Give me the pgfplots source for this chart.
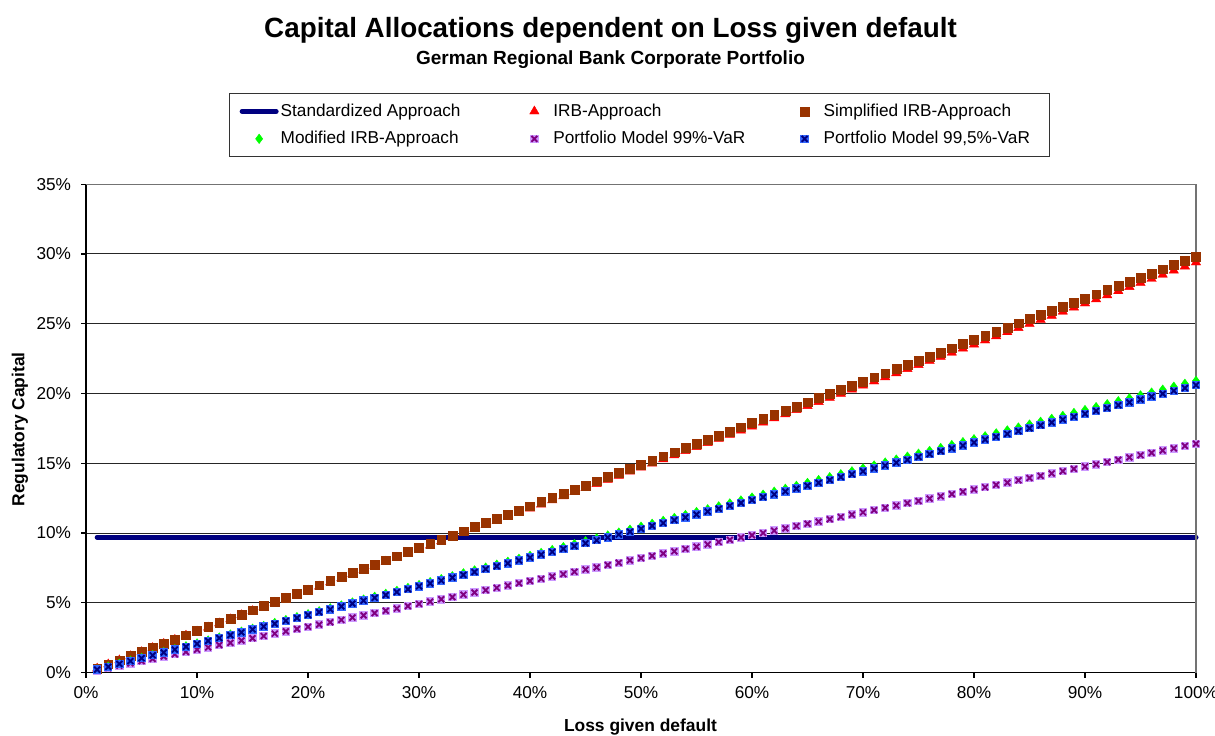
\documentclass[border=0pt]{standalone}
\usepackage{fontspec}
\setmainfont{Liberation Sans}
\usepackage{pgfplots}
\usepackage{pgfplotstable}
\pgfplotsset{compat=1.18}

\definecolor{stdnavy}{HTML}{000080}
\definecolor{irbred}{HTML}{FF0000}
\definecolor{simpbrown}{HTML}{993300}
\definecolor{modgreen}{HTML}{00FF00}
\definecolor{pmpurple}{HTML}{800080}
\definecolor{pmlilac}{HTML}{CC99FF}
\definecolor{pmblue}{HTML}{3366FF}
\definecolor{pmnavy}{HTML}{000080}

% filled square with an x on top (Excel style "x" marker)
\pgfdeclareplotmark{sqx}{%
  \pgfpathrectangle{\pgfqpoint{-\pgfplotmarksize}{-\pgfplotmarksize}}{\pgfqpoint{2\pgfplotmarksize}{2\pgfplotmarksize}}%
  \pgfusepathqfill
  \pgfpathmoveto{\pgfqpoint{-0.7\pgfplotmarksize}{-0.7\pgfplotmarksize}}%
  \pgfpathlineto{\pgfqpoint{0.7\pgfplotmarksize}{0.7\pgfplotmarksize}}%
  \pgfpathmoveto{\pgfqpoint{-0.7\pgfplotmarksize}{0.7\pgfplotmarksize}}%
  \pgfpathlineto{\pgfqpoint{0.7\pgfplotmarksize}{-0.7\pgfplotmarksize}}%
  \pgfusepathqstroke
}

% LGD in %, capital in %
\pgfplotstableread{
x irb simp mod p99 p995
1 0.29 0.30 0.21 0.16 0.21
2 0.59 0.60 0.42 0.33 0.41
3 0.88 0.89 0.63 0.49 0.62
4 1.18 1.19 0.84 0.66 0.82
5 1.47 1.49 1.05 0.82 1.03
6 1.76 1.79 1.25 0.98 1.24
7 2.06 2.09 1.46 1.15 1.44
8 2.35 2.38 1.67 1.31 1.65
9 2.65 2.68 1.88 1.48 1.85
10 2.94 2.98 2.09 1.64 2.06
11 3.23 3.28 2.30 1.80 2.27
12 3.53 3.58 2.51 1.97 2.47
13 3.82 3.87 2.72 2.13 2.68
14 4.12 4.17 2.93 2.30 2.88
15 4.41 4.47 3.14 2.46 3.09
16 4.70 4.77 3.34 2.62 3.30
17 5.00 5.07 3.55 2.79 3.50
18 5.29 5.36 3.76 2.95 3.71
19 5.59 5.66 3.97 3.12 3.91
20 5.88 5.96 4.18 3.28 4.12
21 6.17 6.26 4.39 3.44 4.33
22 6.47 6.56 4.60 3.61 4.53
23 6.76 6.85 4.81 3.77 4.74
24 7.06 7.15 5.02 3.94 4.94
25 7.35 7.45 5.23 4.10 5.15
26 7.64 7.75 5.43 4.26 5.36
27 7.94 8.05 5.64 4.43 5.56
28 8.23 8.34 5.85 4.59 5.77
29 8.53 8.64 6.06 4.76 5.97
30 8.82 8.94 6.27 4.92 6.18
31 9.11 9.24 6.48 5.08 6.39
32 9.41 9.54 6.69 5.25 6.59
33 9.70 9.83 6.90 5.41 6.80
34 10.00 10.13 7.11 5.58 7.00
35 10.29 10.43 7.32 5.74 7.21
36 10.58 10.73 7.52 5.90 7.42
37 10.88 11.03 7.73 6.07 7.62
38 11.17 11.32 7.94 6.23 7.83
39 11.47 11.62 8.15 6.40 8.03
40 11.76 11.92 8.36 6.56 8.24
41 12.05 12.22 8.57 6.72 8.45
42 12.35 12.52 8.78 6.89 8.65
43 12.64 12.81 8.99 7.05 8.86
44 12.94 13.11 9.20 7.22 9.06
45 13.23 13.41 9.41 7.38 9.27
46 13.52 13.71 9.61 7.54 9.48
47 13.82 14.01 9.82 7.71 9.68
48 14.11 14.30 10.03 7.87 9.89
49 14.41 14.60 10.24 8.04 10.09
50 14.70 14.90 10.45 8.20 10.30
51 14.99 15.20 10.66 8.36 10.51
52 15.29 15.50 10.87 8.53 10.71
53 15.58 15.79 11.08 8.69 10.92
54 15.88 16.09 11.29 8.86 11.12
55 16.17 16.39 11.50 9.02 11.33
56 16.46 16.69 11.70 9.18 11.54
57 16.76 16.99 11.91 9.35 11.74
58 17.05 17.28 12.12 9.51 11.95
59 17.35 17.58 12.33 9.68 12.15
60 17.64 17.88 12.54 9.84 12.36
61 17.93 18.18 12.75 10.00 12.57
62 18.23 18.48 12.96 10.17 12.77
63 18.52 18.77 13.17 10.33 12.98
64 18.82 19.07 13.38 10.50 13.18
65 19.11 19.37 13.59 10.66 13.39
66 19.40 19.67 13.79 10.82 13.60
67 19.70 19.97 14.00 10.99 13.80
68 19.99 20.26 14.21 11.15 14.01
69 20.29 20.56 14.42 11.32 14.21
70 20.58 20.86 14.63 11.48 14.42
71 20.87 21.16 14.84 11.64 14.63
72 21.17 21.46 15.05 11.81 14.83
73 21.46 21.75 15.26 11.97 15.04
74 21.76 22.05 15.47 12.14 15.24
75 22.05 22.35 15.68 12.30 15.45
76 22.34 22.65 15.88 12.46 15.66
77 22.64 22.95 16.09 12.63 15.86
78 22.93 23.24 16.30 12.79 16.07
79 23.23 23.54 16.51 12.96 16.27
80 23.52 23.84 16.72 13.12 16.48
81 23.81 24.14 16.93 13.28 16.69
82 24.11 24.44 17.14 13.45 16.89
83 24.40 24.73 17.35 13.61 17.10
84 24.70 25.03 17.56 13.78 17.30
85 24.99 25.33 17.77 13.94 17.51
86 25.28 25.63 17.97 14.10 17.72
87 25.58 25.93 18.18 14.27 17.92
88 25.87 26.22 18.39 14.43 18.13
89 26.17 26.52 18.60 14.60 18.33
90 26.46 26.82 18.81 14.76 18.54
91 26.75 27.12 19.02 14.92 18.75
92 27.05 27.42 19.23 15.09 18.95
93 27.34 27.71 19.44 15.25 19.16
94 27.64 28.01 19.65 15.42 19.36
95 27.93 28.31 19.86 15.58 19.57
96 28.22 28.61 20.06 15.74 19.78
97 28.52 28.91 20.27 15.91 19.98
98 28.81 29.20 20.48 16.07 20.19
99 29.11 29.50 20.69 16.24 20.39
100 29.40 29.80 20.90 16.40 20.60
}\lgdtable

\pgfplotsset{
  legmark/.style={legend image code/.code={%
    \path[draw=none] (0pt,0pt) (17pt,0pt);
    \draw[##1] plot coordinates {(8.5pt,0pt)};}},
  legline/.style={legend image code/.code={%
    \draw[##1] (0pt,0pt) -- (17pt,0pt);}},
}

\begin{document}
\begin{tikzpicture}
\useasboundingbox (-43pt,-31.5pt) rectangle (564pt,336pt);
\begin{axis}[
  at={(0,0)}, anchor=south west,
  scale only axis, width=554.5pt, height=244pt,
  xmin=0, xmax=100, ymin=0, ymax=35,
  xtick={0,10,...,100}, ytick={0,5,...,35},
  xticklabel={\pgfmathprintnumber{\tick}\%},
  yticklabel={\pgfmathprintnumber{\tick}\%},
  /pgf/number format/assume math mode=true,
  tick label style={font=\fontsize{8.6}{10}\selectfont},
  yticklabel style={xshift=-1.5pt},
  xticklabel style={yshift=-1pt},
  axis x line=bottom, axis y line=left,
  axis line style={-, black, line width=0.6pt},
  tick align=outside, major tick length=2.5pt,
  tick style={black, line width=0.6pt},
  ymajorgrids, grid style={black!85, line width=0.5pt},
  xlabel={Loss given default}, ylabel={Regulatory Capital},
  label style={font=\bfseries\fontsize{8.7}{10}\selectfont},
  xlabel style={at={(axis description cs:0.4995,-0.1107)}, anchor=center},
  ylabel style={at={(axis description cs:-0.0595,0.498)}, anchor=center},
  legend columns=3,
  legend cell align=left,
  legend style={at={(axis description cs:0.4986,1.1865)}, anchor=north,
    draw=black!80, line width=0.5pt, fill=white,
    font=\fontsize{8.6}{10}\selectfont,
    inner xsep=5pt, inner ysep=3pt, row sep=2pt,
    nodes={inner xsep=1pt, inner ysep=2pt}},
  clip=false,
]
\addplot[stdnavy, line width=2.5pt, line cap=round, legline]
  coordinates {(1,9.7) (100,9.7)};
\addlegendentry{\makebox[117.25pt][l]{Standardized Approach}}
\addplot[only marks, mark=triangle*, mark size=2.7pt, irbred,
  mark options={draw=irbred, fill=irbred, line width=0.2pt}, legmark]
  table[x=x, y=irb]{\lgdtable};
\addlegendentry{\makebox[116pt][l]{IRB-Approach}}
\addplot[only marks, mark=square*, mark size=2.2pt, simpbrown,
  mark options={draw=simpbrown, fill=simpbrown, line width=0.2pt}, legmark]
  table[x=x, y=simp]{\lgdtable};
\addlegendentry{\makebox[106.75pt][l]{Simplified IRB-Approach}}
\addplot[only marks, mark=diamond*, mark size=2.4pt, modgreen,
  mark options={draw=modgreen, fill=modgreen, line width=0.2pt}, legmark]
  table[x=x, y=mod]{\lgdtable};
\addlegendentry{\makebox[117.25pt][l]{Modified IRB-Approach}}
\addplot[only marks, mark=sqx, mark size=2.1pt,
  mark options={draw=pmpurple, fill=pmlilac, line width=0.95pt}, legmark]
  table[x=x, y=p99]{\lgdtable};
\addlegendentry{\makebox[116pt][l]{Portfolio Model 99\%-VaR}}
\addplot[only marks, mark=sqx, mark size=2.1pt,
  mark options={draw=pmnavy, fill=pmblue, line width=0.95pt}, legmark]
  table[x=x, y=p995]{\lgdtable};
\addlegendentry{\makebox[106.75pt][l]{Portfolio Model 99,5\%-VaR}}
\draw[black!55, line width=0.6pt] (rel axis cs:0,1) -- (rel axis cs:1,1) -- (rel axis cs:1,0);
\end{axis}
\node[anchor=base, font=\bfseries\fontsize{13.9}{16}\selectfont] at (262pt,317.5pt)
  {Capital Allocations dependent on Loss given default};
\node[anchor=base, font=\bfseries\fontsize{9.5}{11}\selectfont] at (262pt,304pt)
  {German Regional Bank Corporate Portfolio};
\end{tikzpicture}
\end{document}
